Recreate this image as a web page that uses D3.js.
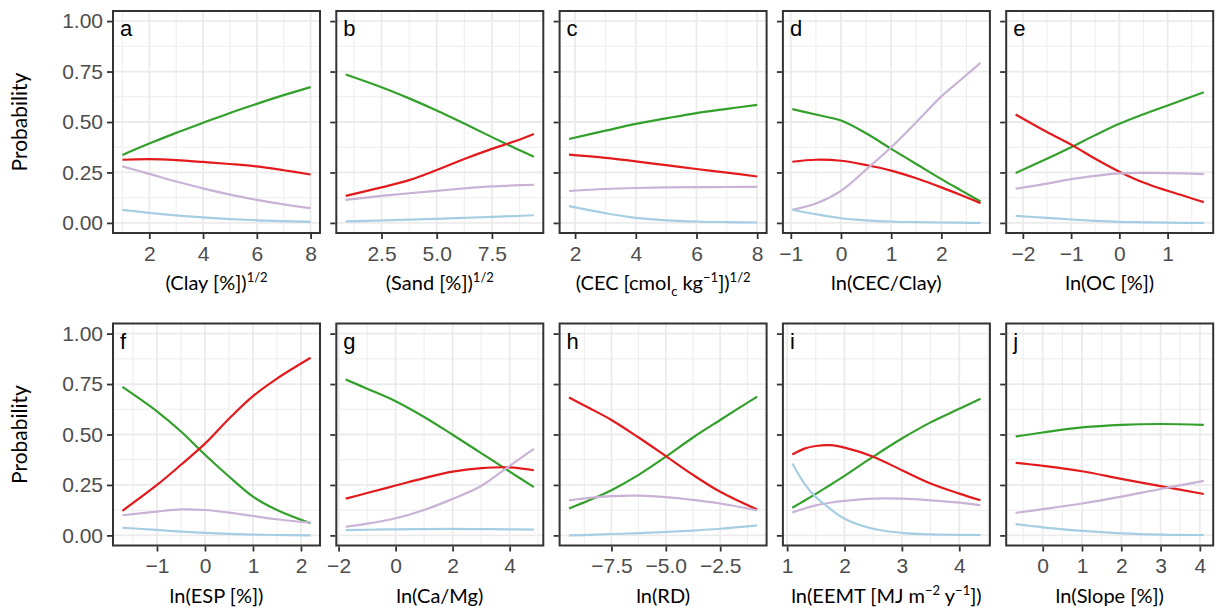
<!DOCTYPE html>
<html>
<head>
<meta charset="utf-8">
<script src="https://cdn.jsdelivr.net/npm/d3@7"></script>
<style>
  body { margin: 0; background: #fff; }
  svg { display: block; }
</style>
</head>
<body>
<svg id="chart" width="1216" height="614"></svg>
<script>
// Predicted class probabilities, one panel per covariate
const panelLetters = ["a", "b", "c", "d", "e", "f", "g", "h", "i", "j"];
const classColors = ["#33a02c", "#e31a1c", "#cab2d6", "#a6cee3"]; // green, red, purple, blue

const xA = [1, 2, 3, 4, 5, 6, 7, 8];
const yA = [
    [0.337, 0.393, 0.446, 0.496, 0.545, 0.59, 0.633, 0.673],
    [0.313, 0.316, 0.311, 0.302, 0.292, 0.28, 0.261, 0.24],
    [0.28, 0.243, 0.205, 0.171, 0.14, 0.114, 0.092, 0.073],
    [0.065, 0.05, 0.037, 0.027, 0.019, 0.013, 0.009, 0.005]
];
const xB = [0.88, 2.5, 3.75, 5, 6.25, 7.5, 8.5, 9.4];
const yB = [
    [0.735, 0.672, 0.617, 0.557, 0.492, 0.425, 0.373, 0.328],
    [0.134, 0.176, 0.212, 0.262, 0.317, 0.367, 0.403, 0.441],
    [0.114, 0.134, 0.147, 0.159, 0.171, 0.181, 0.186, 0.189],
    [0.008, 0.012, 0.016, 0.02, 0.025, 0.03, 0.034, 0.038]
];
const xC = [1.8, 3, 4, 5, 6, 7, 8];
const yC = [
    [0.416, 0.457, 0.491, 0.518, 0.544, 0.565, 0.585],
    [0.338, 0.322, 0.305, 0.286, 0.267, 0.249, 0.23],
    [0.158, 0.168, 0.173, 0.176, 0.177, 0.178, 0.179],
    [0.083, 0.048, 0.025, 0.013, 0.007, 0.004, 0.002]
];
const xD = [-0.97, -0.5, 0, 0.5, 1, 1.5, 2, 2.4, 2.78];
const yD = [
    [0.564, 0.537, 0.507, 0.444, 0.367, 0.292, 0.217, 0.16, 0.106],
    [0.303, 0.313, 0.308, 0.287, 0.259, 0.221, 0.176, 0.137, 0.098],
    [0.065, 0.096, 0.159, 0.264, 0.375, 0.499, 0.627, 0.712, 0.793],
    [0.065, 0.043, 0.023, 0.013, 0.007, 0.004, 0.002, 0.001, 0.0]
];
const xE = [-2.15, -1.5, -1, -0.5, 0, 0.5, 1, 1.75];
const yE = [
    [0.247, 0.318, 0.375, 0.435, 0.491, 0.538, 0.582, 0.647],
    [0.537, 0.45, 0.388, 0.318, 0.254, 0.2, 0.159, 0.103],
    [0.169, 0.195, 0.217, 0.233, 0.245, 0.248, 0.247, 0.242],
    [0.035, 0.025, 0.017, 0.01, 0.005, 0.003, 0.001, 0.0]
];
const xF = [-1.72, -1, -0.5, 0, 0.5, 1, 1.5, 2.2];
const yF = [
    [0.736, 0.615, 0.515, 0.4, 0.292, 0.192, 0.126, 0.06],
    [0.122, 0.25, 0.35, 0.455, 0.578, 0.69, 0.777, 0.88],
    [0.1, 0.118, 0.129, 0.126, 0.113, 0.096, 0.08, 0.063],
    [0.038, 0.027, 0.019, 0.013, 0.008, 0.004, 0.002, 0.0]
];
const xG = [-1.75, -1, 0, 1, 2, 3, 4, 4.85];
const yG = [
    [0.773, 0.727, 0.665, 0.587, 0.499, 0.408, 0.316, 0.239],
    [0.182, 0.21, 0.247, 0.284, 0.316, 0.333, 0.337, 0.323],
    [0.043, 0.058, 0.085, 0.126, 0.181, 0.245, 0.345, 0.429],
    [0.026, 0.028, 0.03, 0.031, 0.032, 0.031, 0.03, 0.029]
];
const xH = [-9.45, -8.5, -7.5, -6.25, -5, -3.75, -2.5, -0.8];
const yH = [
    [0.133, 0.175, 0.224, 0.3, 0.39, 0.485, 0.572, 0.688],
    [0.683, 0.63, 0.572, 0.485, 0.393, 0.3, 0.216, 0.128],
    [0.174, 0.186, 0.195, 0.197, 0.19, 0.176, 0.158, 0.124],
    [0.0, 0.003, 0.007, 0.011, 0.017, 0.024, 0.033, 0.05]
];
const xI = [1.09, 1.3, 1.5, 1.75, 2, 2.5, 3, 3.5, 4, 4.37];
const yI = [
    [0.137, 0.172, 0.206, 0.25, 0.295, 0.39, 0.48, 0.56, 0.627, 0.677],
    [0.401, 0.43, 0.443, 0.447, 0.435, 0.39, 0.323, 0.257, 0.207, 0.174],
    [0.113, 0.133, 0.149, 0.162, 0.171, 0.182, 0.182, 0.174, 0.162, 0.149],
    [0.356, 0.257, 0.19, 0.132, 0.083, 0.033, 0.013, 0.005, 0.003, 0.002]
];
const xJ = [-0.69, 0, 1, 2, 3, 4.1];
const yJ = [
    [0.49, 0.51, 0.535, 0.548, 0.552, 0.548],
    [0.36, 0.345, 0.318, 0.28, 0.244, 0.205],
    [0.112, 0.13, 0.158, 0.192, 0.23, 0.27],
    [0.056, 0.04, 0.022, 0.01, 0.004, 0.002]
];

const xTicks = [
    [2, 4, 6, 8], [2.5, 5, 7.5], [2, 4, 6, 8], [-1, 0, 1, 2], [-2, -1, 0, 1],
    [-1, 0, 1, 2], [-2, 0, 2, 4], [-7.5, -5, -2.5], [1, 2, 3, 4], [0, 1, 2, 3, 4]
];
const xTickFormats = ["d", ".1f", "d", "d", "d", "d", "d", ".1f", "d", "d"];
const yTicks = [0, 0.25, 0.5, 0.75, 1];

// axis titles: [text, kind] where kind "sup"/"sub" shifts the piece
const xTitles = [
    [["(Clay [%])"], ["1/2", "sup"]],
    [["(Sand [%])"], ["1/2", "sup"]],
    [["(CEC [cmol"], ["c", "sub"], [" kg"], ["\u22121", "sup"], ["])"], ["1/2", "sup"]],
    [["ln(CEC/Clay)"]],
    [["ln(OC [%])"]],
    [["ln(ESP [%])"]],
    [["ln(Ca/Mg)"]],
    [["ln(RD)"]],
    [["ln(EEMT [MJ m"], ["\u22122", "sup"], [" y"], ["\u22121", "sup"], ["])"]],
    [["ln(Slope [%])"]]
];

const panelX = [xA, xB, xC, xD, xE, xF, xG, xH, xI, xJ];
const panelY = [yA, yB, yC, yD, yE, yF, yG, yH, yI, yJ];

const svg = d3.select("#chart");
const panelW = 207;
const rowTop = [11, 323.5];
const panelH = 222;

function minorBreaks(ticks, domain) {
    const step = ticks[1] - ticks[0];
    const out = [];
    for (let i = -1; i < ticks.length; i++) {
        const m = ticks[0] + step * (i + 0.5);
        if (m >= domain[0] && m <= domain[1]) out.push(m);
    }
    return out;
}

panelLetters.forEach((letter, p) => {
    const row = Math.floor(p / 5);
    const col = p % 5;
    const left = 113 + col * 223.3;
    const top = rowTop[row];
    const xs = panelX[p];
    const series = panelY[p];

    const xMin = d3.min(xs), xMax = d3.max(xs);
    const pad = (xMax - xMin) * 0.05;
    const x = d3.scaleLinear().domain([xMin - pad, xMax + pad]).range([left, left + panelW]);
    const y = d3.scaleLinear().domain([-0.05, 1.05]).range([top + panelH, top]);

    const g = svg.append("g");

    // grid: minor then major
    const yMinor = minorBreaks(yTicks, y.domain());
    const xMinor = minorBreaks(xTicks[p], x.domain());
    g.selectAll(".xminor").data(xMinor).enter().append("line")
        .attr("x1", d => x(d)).attr("x2", d => x(d))
        .attr("y1", top).attr("y2", top + panelH)
        .attr("stroke", "#ebebeb").attr("stroke-width", 0.9);
    g.selectAll(".yminor").data(yMinor).enter().append("line")
        .attr("x1", left).attr("x2", left + panelW)
        .attr("y1", d => y(d)).attr("y2", d => y(d))
        .attr("stroke", "#ebebeb").attr("stroke-width", 0.9);
    g.selectAll(".xmajor").data(xTicks[p]).enter().append("line")
        .attr("x1", d => x(d)).attr("x2", d => x(d))
        .attr("y1", top).attr("y2", top + panelH)
        .attr("stroke", "#ebebeb").attr("stroke-width", 1.8);
    g.selectAll(".ymajor").data(yTicks).enter().append("line")
        .attr("x1", left).attr("x2", left + panelW)
        .attr("y1", d => y(d)).attr("y2", d => y(d))
        .attr("stroke", "#ebebeb").attr("stroke-width", 1.8);

    // lines
    const line = d3.line()
        .x(d => x(d[0]))
        .y(d => y(d[1]))
        .curve(d3.curveCatmullRom.alpha(0.5));
    series.forEach((vals, k) => {
        g.append("path")
            .datum(xs.map((xv, i) => [xv, vals[i]]))
            .attr("d", line)
            .attr("fill", "none")
            .attr("stroke", classColors[k])
            .attr("stroke-width", 2.2);
    });

    // panel border
    g.append("rect")
        .attr("x", left).attr("y", top)
        .attr("width", panelW).attr("height", panelH)
        .attr("fill", "none")
        .attr("stroke", "#333333")
        .attr("stroke-width", 2);

    // axes
    const xAxis = d3.axisBottom(x)
        .tickValues(xTicks[p])
        .tickSize(5)
        .tickPadding(4)
        .tickFormat(d3.format(xTickFormats[p]));
    const gx = g.append("g")
        .attr("transform", `translate(0,${top + panelH + 1})`)
        .call(xAxis);
    gx.select(".domain").remove();

    const yAxis = d3.axisLeft(y)
        .tickValues(yTicks)
        .tickSize(5)
        .tickPadding(4)
        .tickFormat(col === 0 ? d3.format(".2f") : "");
    const gy = g.append("g")
        .attr("transform", `translate(${left - 1},0)`)
        .call(yAxis);
    gy.select(".domain").remove();

    [gx, gy].forEach(a => {
        a.selectAll(".tick line").attr("stroke", "#333333").attr("stroke-width", 1.8);
        a.selectAll(".tick text")
            .attr("fill", "#4d4d4d")
            .style("font-family", "'Liberation Sans', Arial, sans-serif")
            .style("font-size", "21px");
    });
    gx.selectAll(".tick text").attr("dy", "0.85em");

    // panel letter
    g.append("text")
        .attr("x", left + 7)
        .attr("y", top + 25)
        .style("font-family", "'Liberation Sans', Arial, sans-serif")
        .style("font-size", "22px")
        .attr("fill", "#000")
        .text(letter);

    // x title, pieces shifted for super/subscripts
    const title = g.append("text")
        .attr("x", left + panelW / 2)
        .attr("y", top + panelH + 57)
        .attr("text-anchor", "middle")
        .style("font-family", "Lato, 'Open Sans', sans-serif")
        .style("font-size", "20px")
        .attr("fill", "#000");
    let prev = null;
    xTitles[p].forEach(([txt, kind]) => {
        let dy = 0;
        if (prev === "sup") dy += 8;
        if (prev === "sub") dy -= 6;
        if (kind === "sup") dy -= 8;
        if (kind === "sub") dy += 6;
        const t = title.append("tspan").text(txt).attr("dy", dy);
        if (kind) t.style("font-size", "13px");
        prev = kind || null;
    });

    // y title
    if (col === 0) {
        g.append("text")
            .attr("transform", `translate(27,${top + panelH / 2}) rotate(-90)`)
            .attr("text-anchor", "middle")
            .style("font-family", "Lato, 'Open Sans', sans-serif")
            .style("font-size", "21px")
            .attr("fill", "#000")
            .text("Probability");
    }
});
</script>
</body>
</html>
